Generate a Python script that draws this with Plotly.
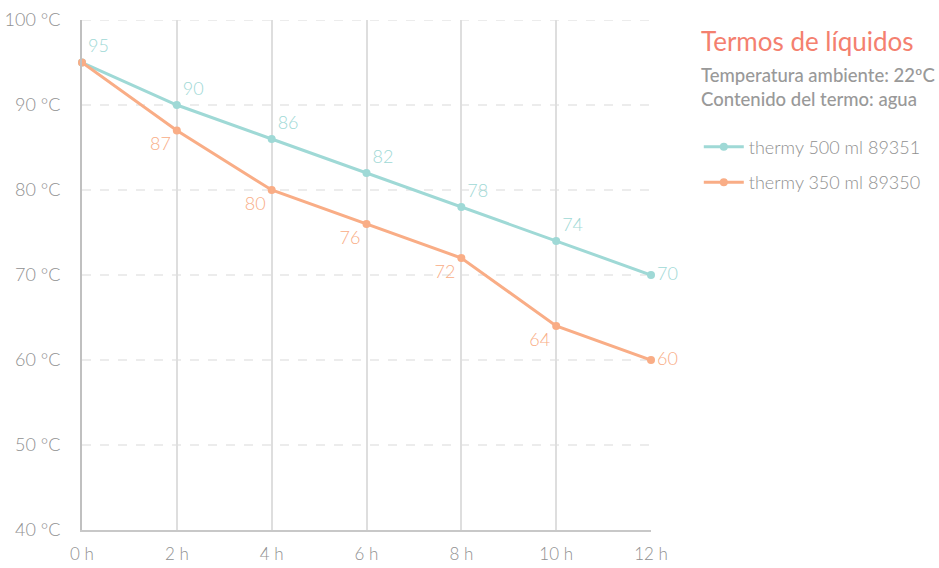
import plotly.graph_objects as go

# Thermos cooling data (hours after filling, water temperature in °C)
hours = [0, 2, 4, 6, 8, 10, 12]
hour_labels = ["0 h", "2 h", "4 h", "6 h", "8 h", "10 h", "12 h"]
temps_500 = [95, 90, 86, 82, 78, 74, 70]
temps_350 = [95, 87, 80, 76, 72, 64, 60]
temp_ticks = [40, 50, 60, 70, 80, 90, 100]
temp_tick_labels = ["40 °C", "50 °C", "60 °C", "70 °C", "80 °C", "90 °C", "100 °C"]

name_500 = "thermy 500 ml 89351"
name_350 = "thermy 350 ml 89350"
title_text = "Termos de líquidos"
subtitle_lines = ["Temperatura ambiente: 22ºC", "Contenido del termo: agua"]

TEAL = "#9fd9d6"
ORANGE = "#f9ad86"
TITLE = "#f4806f"
GREY = "#909090"
FONT = "Lato, 'Noto Sans', sans-serif"

fig = go.Figure()

pos_500 = ["top right"] * (len(hours) - 1) + ["middle right"]
pos_350 = ["bottom left"] * (len(hours) - 1) + ["middle right"]
text_350 = [""] + [str(v) for v in temps_350[1:]]

fig.add_trace(go.Scatter(
    x=hours, y=temps_500, name=name_500, legendgroup="a", mode="lines+markers+text",
    line=dict(color=TEAL, width=3), marker=dict(color=TEAL, size=8),
    text=[str(v) for v in temps_500], textposition=pos_500,
    textfont=dict(color=TEAL, size=18, family=FONT, weight=300), cliponaxis=False,
))
fig.add_trace(go.Scatter(
    x=hours, y=temps_350, name=name_350, legendgroup="b", mode="lines+markers+text",
    line=dict(color=ORANGE, width=3), marker=dict(color=ORANGE, size=8),
    text=text_350, textposition=pos_350,
    textfont=dict(color=ORANGE, size=18, family=FONT, weight=300), cliponaxis=False,
))

# horizontal dashed grid lines
for t in temp_ticks[1:]:
    fig.add_shape(type="line", xref="x", yref="y", x0=0, x1=12, y0=t, y1=t,
                  line=dict(color="#d9d9d9", width=1.2, dash="dash"), layer="below")

fig.add_annotation(text=title_text, xref="paper", yref="paper", x=1.084, y=0.959,
                   xanchor="left", yanchor="middle", showarrow=False,
                   font=dict(color=TITLE, size=26, family=FONT, weight=400))
fig.add_annotation(text="<br>".join(subtitle_lines), xref="paper", yref="paper",
                   x=1.084, y=0.868, xanchor="left", yanchor="middle", showarrow=False,
                   align="left", font=dict(color="#999999", size=18.5, family=FONT, weight=500))

fig.update_layout(
    width=939, height=568,
    margin=dict(l=82, r=288, t=20, b=38, autoexpand=False),
    paper_bgcolor="white", plot_bgcolor="white",
    font=dict(family=FONT, color=GREY, size=17, weight=300),
    showlegend=True,
    legend=dict(x=1.084, y=0.787, xanchor="left", yanchor="top",
                font=dict(color=GREY, size=18, family=FONT, weight=300),
                tracegroupgap=9, itemwidth=40, bgcolor="rgba(0,0,0,0)"),
    xaxis=dict(range=[0, 12], tickvals=hours, ticktext=hour_labels,
               showgrid=True, gridcolor="#dedede", gridwidth=1.5,
               showline=True, linecolor="#c8c8c8", linewidth=2,
               zeroline=False, ticks="", ticklabelstandoff=8, automargin=False,
               tickfont=dict(color=GREY, size=17, weight=300)),
    yaxis=dict(range=[40, 100], tickvals=temp_ticks, ticktext=temp_tick_labels,
               showgrid=False, showline=True, linecolor="#c0c0c0", linewidth=2,
               zeroline=False, ticks="", ticklabelstandoff=16, automargin=False,
               tickfont=dict(color=GREY, size=18, weight=300)),
)

fig.write_html("out.html")
